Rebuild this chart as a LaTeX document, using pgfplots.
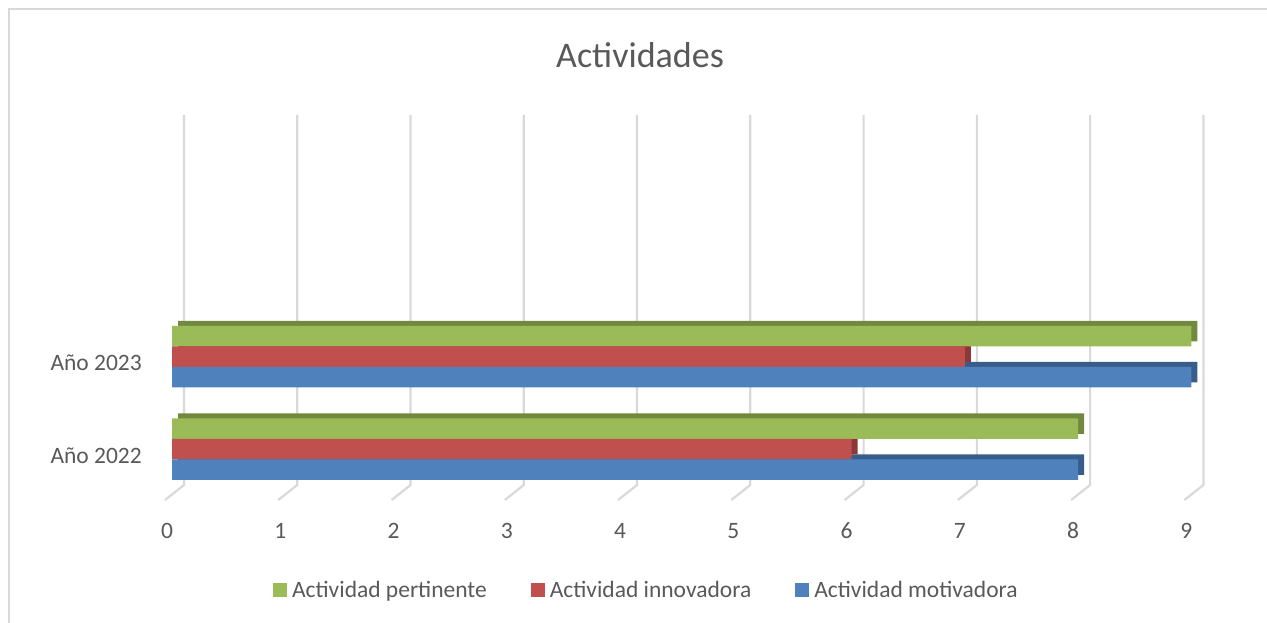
\documentclass[border=0pt]{standalone}
\usepackage{pgfplots}
\pgfplotsset{compat=1.18}
\usepackage{fontspec}
\setmainfont{Carlito}
\definecolor{cblue}{HTML}{4F81BD}
\definecolor{cred}{HTML}{C0504D}
\definecolor{cgreen}{HTML}{9BBB59}
\definecolor{dblue}{HTML}{385D8A}
\definecolor{dred}{HTML}{8C3836}
\definecolor{dgreen}{HTML}{71893F}
\definecolor{gridc}{HTML}{D9D9D9}
\definecolor{textc}{HTML}{595959}
\begin{document}
\begin{tikzpicture}
\useasboundingbox (0,0) rectangle (1267pt,623pt);
\draw[gridc, line width=1.3pt] (9pt,0pt) -- (9pt,614pt) -- (1267pt,614pt);
\node[text=textc, font=\fontsize{36}{42}\selectfont] at (640pt,568pt) {Actividades};
\begin{axis}[
  at={(172pt,123pt)}, anchor=south west,
  scale only axis, width=1019.5pt, height=385pt,
  xmin=0, xmax=9, ymin=-0.551, ymax=3.611,
  axis line style={draw=none},
  major tick length=0pt,
  xtick={0,...,9},
  ytick={0,1}, yticklabels={Año 2022, Año 2023},
  /pgf/number format/assume math mode=true,
  tick label style={font=\fontsize{23.5}{28}\selectfont, text=textc},
  xticklabel style={anchor=center, yshift=-31pt, xshift=-5pt},
  yticklabel style={anchor=east, inner sep=0pt, xshift=-30pt, yshift=-6.5pt},
  clip=false,
  legend columns=3,
  legend style={at={(0.4644,-0.2338)}, anchor=center, draw=none, fill=none,
    font=\fontsize{23.5}{28}\selectfont, text=textc,
    nodes={inner sep=0pt},
    /tikz/every odd column/.append style={column sep=5pt},
    /tikz/every even column/.append style={column sep=44pt}},
  legend image code/.code={\fill[#1] (0pt,-7pt) rectangle (14pt,7pt);},
]
\pgfplotsinvokeforeach{0,...,9}{
  \draw[gridc, line width=2.2pt] ([xshift=12pt]axis cs:#1,3.611) -- ([xshift=12pt,yshift=15pt]axis cs:#1,-0.551) -- ([xshift=-7pt]axis cs:#1,-0.551);
}
% depth faces (shifted darker copies)
\addplot[xbar, bar width=20.5pt, bar shift=-20.5pt, fill=dblue, draw=none, forget plot, xshift=6pt, yshift=5pt] coordinates {(8,0) (9,1)};
\addplot[xbar, bar width=20.5pt, bar shift=0pt, fill=dred, draw=none, forget plot, xshift=6pt, yshift=5pt] coordinates {(6,0) (7,1)};
\addplot[xbar, bar width=20.5pt, bar shift=20.5pt, fill=dgreen, draw=none, forget plot, xshift=6pt, yshift=5pt] coordinates {(8,0) (9,1)};
% front faces
\addplot[xbar, bar width=20.5pt, bar shift=20.5pt, fill=cgreen, draw=none] coordinates {(8,0) (9,1)};
\addlegendentry{Actividad pertinente}
\addplot[xbar, bar width=20.5pt, bar shift=0pt, fill=cred, draw=none] coordinates {(6,0) (7,1)};
\addlegendentry{Actividad innovadora}
\addplot[xbar, bar width=20.5pt, bar shift=-20.5pt, fill=cblue, draw=none] coordinates {(8,0) (9,1)};
\addlegendentry{Actividad motivadora}
\end{axis}
\end{tikzpicture}
\end{document}
